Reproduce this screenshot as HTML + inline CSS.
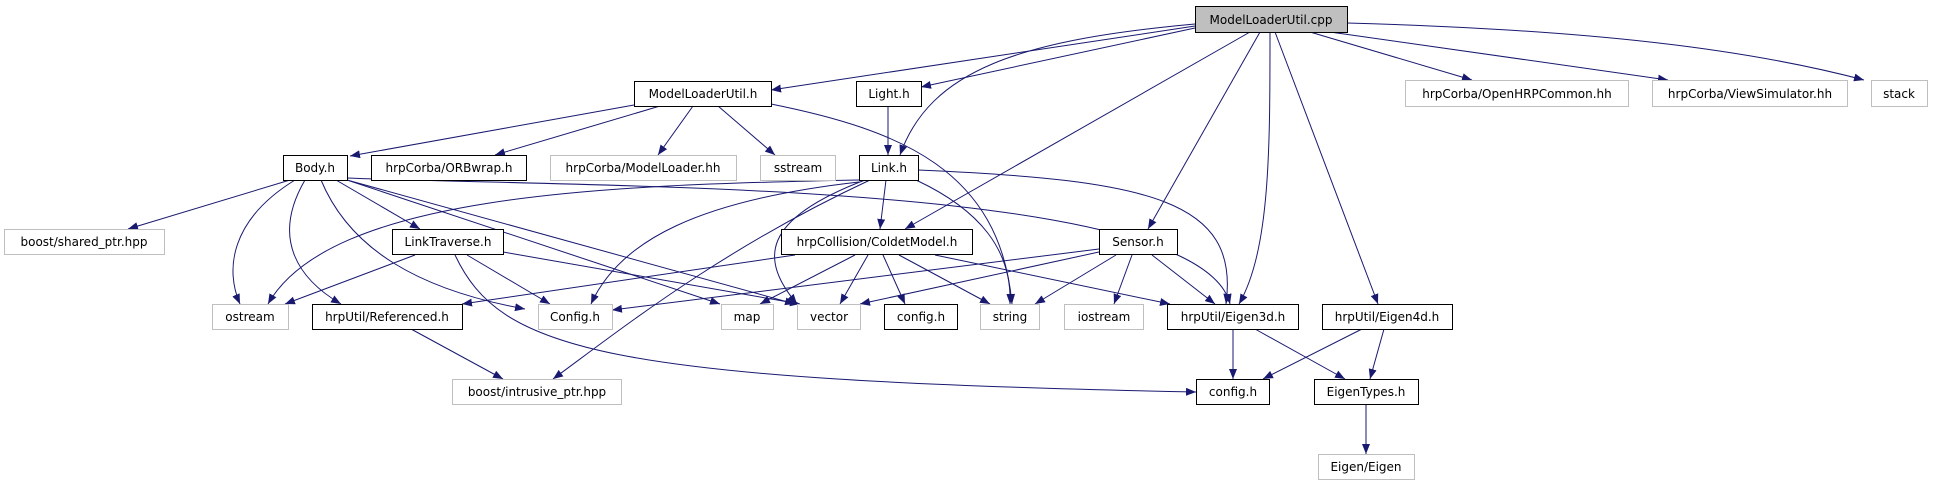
<!DOCTYPE html>
<html><head><meta charset="utf-8"><style>
html,body{margin:0;padding:0;background:#fff;}
svg{display:block;}
text{font-family:"DejaVu Sans","Liberation Sans",sans-serif;font-size:12px;fill:#000;}
</style></head><body>
<svg width="1933" height="485" viewBox="0 0 1933 485" xmlns="http://www.w3.org/2000/svg">
<defs>
<marker id="a" markerWidth="10" markerHeight="8" refX="10" refY="4" orient="auto" markerUnits="userSpaceOnUse">
<path d="M0,0 L10,4 L0,8 z" fill="#191970"/>
</marker>
</defs>
<g fill="none" stroke="#191970" stroke-width="1" marker-end="url(#a)">
<path d="M1195,26 L771,90"/>
<path d="M1195,28 L921,87"/>
<path d="M1195,24 C1020,40 930,70 900,155"/>
<path d="M1250,32 L905,229"/>
<path d="M1260,32 L1148,229"/>
<path d="M1270,32 C1270,150 1270,250 1239,304"/>
<path d="M1275,32 L1378,304"/>
<path d="M1310,32 L1472,80"/>
<path d="M1330,32 L1668,80"/>
<path d="M1347,23 C1600,30 1750,50 1864,80"/>
<path d="M634,105 L350,156"/>
<path d="M660,106 L495,155"/>
<path d="M693,106 L658,155"/>
<path d="M718,106 L775,155"/>
<path d="M771,104 C900,130 1000,170 1012,304"/>
<path d="M888,106 L888,155"/>
<path d="M886,180 L880,229"/>
<path d="M916,180 C980,210 1012,250 1010,304"/>
<path d="M918,170 C1150,180 1240,200 1226,304"/>
<path d="M859,182 C700,200 620,240 591,304"/>
<path d="M859,180 C600,185 330,195 268,304"/>
<path d="M865,180 C760,220 760,260 797,304"/>
<path d="M870,180 C720,250 620,330 553,379"/>
<path d="M290,180 L128,229"/>
<path d="M295,180 C230,220 225,270 240,304"/>
<path d="M305,180 C270,240 300,280 341,304"/>
<path d="M321,180 C350,250 420,290 525,309"/>
<path d="M336,180 L420,229"/>
<path d="M347,180 L720,304"/>
<path d="M347,180 L795,304"/>
<path d="M347,178 C600,188 1200,180 1230,304"/>
<path d="M415,255 L285,304"/>
<path d="M467,255 L550,304"/>
<path d="M503,252 L800,304"/>
<path d="M455,255 C500,350 600,380 1196,392"/>
<path d="M795,255 L462,304"/>
<path d="M855,255 L760,304"/>
<path d="M868,255 L840,304"/>
<path d="M883,255 L905,304"/>
<path d="M899,255 L990,304"/>
<path d="M935,255 L1170,304"/>
<path d="M1099,249 L612,310"/>
<path d="M1099,252 L860,304"/>
<path d="M1116,255 L1035,304"/>
<path d="M1132,255 L1114,304"/>
<path d="M1152,255 L1215,304"/>
<path d="M411,329 L503,379"/>
<path d="M1233,329 L1233,379"/>
<path d="M1255,329 L1345,379"/>
<path d="M1362,329 L1263,379"/>
<path d="M1384,329 L1370,379"/>
<path d="M1366,404 L1366,454"/>
</g>
<g stroke-width="1">
<rect x="1195.5" y="6.5" width="152" height="26" fill="#bfbfbf" stroke="#000"/>
<text x="1271" y="24" text-anchor="middle">ModelLoaderUtil.cpp</text>
<g fill="#fff" stroke="#000">
<rect x="634.5" y="81.5" width="137" height="25"/>
<rect x="856.5" y="81.5" width="65" height="25"/>
<rect x="283.5" y="155.5" width="64" height="25"/>
<rect x="371.5" y="155.5" width="155" height="25"/>
<rect x="859.5" y="155.5" width="59" height="25"/>
<rect x="392.5" y="229.5" width="111" height="25"/>
<rect x="781.5" y="229.5" width="191" height="25"/>
<rect x="1099.5" y="229.5" width="78" height="25"/>
<rect x="312.5" y="304.5" width="150" height="25"/>
<rect x="884.5" y="304.5" width="73" height="25"/>
<rect x="1167.5" y="304.5" width="131" height="25"/>
<rect x="1322.5" y="304.5" width="130" height="25"/>
<rect x="1196.5" y="379.5" width="73" height="25"/>
<rect x="1314.5" y="379.5" width="104" height="25"/>
</g>
<g fill="#fff" stroke="#bfbfbf">
<rect x="550.5" y="155.5" width="186" height="25"/>
<rect x="760.5" y="155.5" width="75" height="25"/>
<rect x="1405.5" y="80.5" width="223" height="26"/>
<rect x="1652.5" y="80.5" width="195" height="26"/>
<rect x="1871.5" y="80.5" width="56" height="26"/>
<rect x="4.5" y="229.5" width="160" height="25"/>
<rect x="212.5" y="304.5" width="76" height="25"/>
<rect x="538.5" y="304.5" width="74" height="25"/>
<rect x="721.5" y="304.5" width="52" height="25"/>
<rect x="797.5" y="304.5" width="63" height="25"/>
<rect x="980.5" y="304.5" width="59" height="25"/>
<rect x="1064.5" y="304.5" width="79" height="25"/>
<rect x="452.5" y="379.5" width="169" height="25"/>
<rect x="1318.5" y="454.5" width="96" height="25"/>
</g>
</g>
<g text-anchor="middle">
<text x="703" y="98">ModelLoaderUtil.h</text>
<text x="889" y="98">Light.h</text>
<text x="315" y="172">Body.h</text>
<text x="449" y="172">hrpCorba/ORBwrap.h</text>
<text x="643" y="172">hrpCorba/ModelLoader.hh</text>
<text x="798" y="172">sstream</text>
<text x="889" y="172">Link.h</text>
<text x="1517" y="98">hrpCorba/OpenHRPCommon.hh</text>
<text x="1750" y="98">hrpCorba/ViewSimulator.hh</text>
<text x="1899" y="98">stack</text>
<text x="84" y="246">boost/shared_ptr.hpp</text>
<text x="448" y="246">LinkTraverse.h</text>
<text x="877" y="246">hrpCollision/ColdetModel.h</text>
<text x="1138" y="246">Sensor.h</text>
<text x="250" y="321">ostream</text>
<text x="387" y="321">hrpUtil/Referenced.h</text>
<text x="575" y="321">Config.h</text>
<text x="747" y="321">map</text>
<text x="829" y="321">vector</text>
<text x="921" y="321">config.h</text>
<text x="1010" y="321">string</text>
<text x="1104" y="321">iostream</text>
<text x="1233" y="321">hrpUtil/Eigen3d.h</text>
<text x="1387" y="321">hrpUtil/Eigen4d.h</text>
<text x="537" y="396">boost/intrusive_ptr.hpp</text>
<text x="1233" y="396">config.h</text>
<text x="1366" y="396">EigenTypes.h</text>
<text x="1366" y="471">Eigen/Eigen</text>
</g>
</svg>
</body></html>
